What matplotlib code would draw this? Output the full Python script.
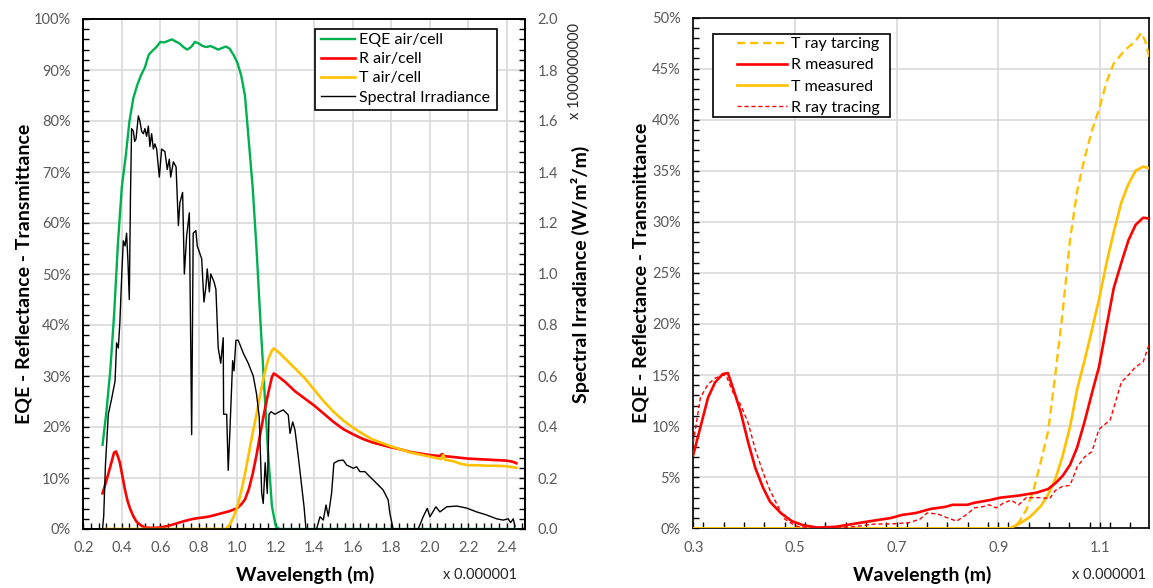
import matplotlib
matplotlib.use("Agg")
import matplotlib.pyplot as plt
from matplotlib.ticker import MultipleLocator, FuncFormatter, FixedLocator
from matplotlib.patches import Rectangle
import numpy as np

plt.rcParams['font.family'] = ['Lato', 'DejaVu Sans']

# ---------------- Left panel data (wavelength in µm) ----------------
eqe_wl = [0.30, 0.32, 0.34, 0.36, 0.38, 0.40, 0.42, 0.44, 0.46, 0.48, 0.50, 0.52, 0.54, 0.56,
          0.58, 0.60, 0.62, 0.64, 0.66, 0.68, 0.70, 0.72, 0.74, 0.76, 0.78, 0.80, 0.82, 0.84,
          0.86, 0.88, 0.90, 0.92, 0.94, 0.96, 0.98, 1.00, 1.02, 1.04, 1.06, 1.08, 1.10, 1.12,
          1.14, 1.16, 1.18, 1.20, 1.22, 1.60, 2.00, 2.45]
eqe_val = [16.5, 23, 31, 42, 56, 67, 73, 80, 84.5, 87, 89, 90.5, 93, 93.8,
           94.5, 95.5, 95.4, 95.7, 96, 95.6, 95.2, 94.5, 94, 94.5, 95.5, 95.2, 94.7, 94.5,
           94.7, 94.4, 94, 94.3, 94.6, 94.2, 93, 91.5, 89, 85, 76, 67, 55, 41,
           28, 15, 4.5, 0.5, 0, 0, 0, 0]

r_wl = [0.30, 0.32, 0.34, 0.36, 0.37, 0.38, 0.39, 0.40, 0.417, 0.43, 0.443, 0.46, 0.477, 0.50,
        0.52, 0.56, 0.60, 0.64, 0.685, 0.72, 0.76, 0.79, 0.83, 0.86, 0.90, 0.93, 0.96, 1.00,
        1.02, 1.04, 1.06, 1.08, 1.10, 1.12, 1.14, 1.16, 1.18, 1.19, 1.21, 1.25, 1.30, 1.35,
        1.40, 1.45, 1.50, 1.55, 1.60, 1.65, 1.70, 1.75, 1.80, 1.85, 1.90, 1.95, 2.00, 2.05,
        2.065, 2.075, 2.10, 2.15, 2.20, 2.25, 2.30, 2.35, 2.40, 2.43, 2.45]
r_val = [7.0, 9.5, 12.2, 15.0, 15.2, 14.2, 13.0, 11.0, 7.6, 5.5, 4.0, 2.5, 1.4, 0.7,
         0.3, 0.2, 0.3, 0.6, 1.1, 1.5, 1.9, 2.1, 2.3, 2.5, 2.9, 3.2, 3.5, 4.1,
         4.8, 5.8, 7.8, 10.8, 14.5, 18.8, 22.8, 26.5, 29.8, 30.5, 30.0, 28.8, 27.0, 25.6,
         24.2, 22.6, 21.0, 19.6, 18.6, 17.7, 17.0, 16.5, 16.0, 15.6, 15.1, 14.8, 14.5, 14.3,
         14.7, 14.3, 14.2, 14.0, 13.8, 13.7, 13.6, 13.5, 13.4, 13.2, 12.9]

t_wl = [0.30, 0.60, 0.94, 0.96, 0.98, 1.00, 1.02, 1.04, 1.06, 1.08, 1.10, 1.12, 1.14, 1.16,
        1.18, 1.19, 1.22, 1.26, 1.30, 1.35, 1.40, 1.45, 1.50, 1.55, 1.60, 1.65, 1.70, 1.75,
        1.80, 1.85, 1.90, 1.95, 2.00, 2.05, 2.06, 2.07, 2.08, 2.12, 2.16, 2.20, 2.25, 2.30,
        2.35, 2.40, 2.45]
t_val = [0, 0, 0, 0.8, 2.3, 4.3, 7.3, 10.8, 14.8, 18.8, 22.5, 26.5, 30.2, 33.2,
         35.0, 35.4, 34.5, 33.0, 31.5, 29.6, 27.3, 25.0, 23.0, 21.3, 19.9, 18.7, 17.6, 16.9,
         16.2, 15.6, 15.0, 14.6, 14.2, 13.8, 13.7, 14.5, 13.6, 13.3, 12.8, 12.5, 12.5, 12.4,
         12.4, 12.3, 12.0]

# Spectral irradiance (x 1e9 W/m²/m)
si_wl = [0.300, 0.306, 0.315, 0.330, 0.347, 0.365, 0.373, 0.382, 0.390, 0.400, 0.408, 0.417,
         0.425, 0.432, 0.439, 0.445, 0.451, 0.460, 0.467, 0.474, 0.486, 0.494, 0.503, 0.512,
         0.520, 0.529, 0.538, 0.546, 0.555, 0.564, 0.572, 0.581, 0.595, 0.607, 0.624, 0.636,
         0.647, 0.654, 0.668, 0.682, 0.694, 0.702, 0.716, 0.725, 0.737, 0.751, 0.763, 0.771,
         0.785, 0.792, 0.815, 0.827, 0.837, 0.844, 0.855, 0.862, 0.879, 0.889, 0.901, 0.914,
         0.927, 0.929, 0.945, 0.953, 0.962, 0.976, 0.983, 0.993, 1.005, 1.031, 1.057, 1.083,
         1.100, 1.114, 1.127, 1.135, 1.145, 1.156, 1.165, 1.175, 1.196, 1.205, 1.220, 1.239,
         1.265, 1.274, 1.288, 1.300, 1.317, 1.335, 1.347, 1.357, 1.412, 1.430, 1.447, 1.461,
         1.473, 1.490, 1.502, 1.525, 1.551, 1.568, 1.603, 1.620, 1.637, 1.663, 1.689, 1.724,
         1.758, 1.784, 1.793, 1.810, 1.940, 1.966, 1.987, 2.001, 2.032, 2.053, 2.088, 2.140,
         2.192, 2.244, 2.296, 2.347, 2.382, 2.408, 2.420, 2.434, 2.443]
si_val = [0.0, 0.05, 0.25, 0.45, 0.51, 0.58, 0.73, 0.71, 0.81, 1.00, 1.13, 1.11,
          1.16, 1.05, 0.90, 1.30, 1.57, 1.56, 1.52, 1.53, 1.62, 1.60, 1.56, 1.55,
          1.57, 1.54, 1.58, 1.50, 1.55, 1.49, 1.51, 1.49, 1.38, 1.49, 1.48, 1.41,
          1.45, 1.38, 1.44, 1.42, 1.19, 1.28, 1.32, 1.00, 1.15, 1.24, 0.37, 1.16,
          1.17, 1.11, 1.06, 0.89, 0.95, 1.02, 0.93, 1.00, 0.97, 0.94, 0.71, 0.65,
          0.75, 0.45, 0.45, 0.23, 0.39, 0.66, 0.62, 0.74, 0.74, 0.69, 0.65, 0.60,
          0.53, 0.44, 0.14, 0.10, 0.26, 0.14, 0.45, 0.46, 0.45, 0.454, 0.46, 0.467,
          0.447, 0.375, 0.42, 0.388, 0.284, 0.166, 0.087, 0.0, 0.0, 0.048, 0.035, 0.094,
          0.05, 0.14, 0.258, 0.268, 0.27, 0.251, 0.238, 0.244, 0.225, 0.225, 0.205, 0.179,
          0.153, 0.114, 0.061, 0.0, 0.0, 0.048, 0.081, 0.048, 0.087, 0.067, 0.087, 0.09,
          0.082, 0.067, 0.055, 0.04, 0.035, 0.04, 0.025, 0.04, 0.01]

# ---------------- Right panel data ----------------
rm_wl = [0.300, 0.314, 0.329, 0.343, 0.358, 0.368, 0.379, 0.393, 0.408, 0.422, 0.437, 0.451,
         0.472, 0.494, 0.516, 0.545, 0.580, 0.616, 0.652, 0.688, 0.710, 0.738, 0.767, 0.796,
         0.810, 0.839, 0.853, 0.882, 0.904, 0.940, 0.976, 0.998, 1.012, 1.026, 1.041, 1.055,
         1.070, 1.084, 1.098, 1.113, 1.127, 1.142, 1.156, 1.170, 1.185, 1.200]
rm_val = [7.2, 9.9, 12.8, 14.3, 15.1, 15.2, 13.6, 11.4, 8.4, 5.9, 4.0, 2.6,
          1.5, 0.7, 0.3, 0.07, 0.15, 0.44, 0.73, 1.0, 1.3, 1.5, 1.9, 2.1,
          2.3, 2.3, 2.5, 2.75, 3.0, 3.2, 3.5, 3.85, 4.4, 5.1, 6.2, 7.9,
          10.5, 13.2, 15.8, 19.8, 23.5, 26.0, 28.2, 29.7, 30.4, 30.3]

tm_wl = [0.300, 0.922, 0.940, 0.962, 0.984, 0.998, 1.012, 1.026, 1.041, 1.055, 1.070, 1.084,
         1.098, 1.113, 1.127, 1.142, 1.156, 1.170, 1.185, 1.200]
tm_val = [0, 0, 0.4, 1.1, 2.2, 3.3, 4.8, 7.0, 9.9, 13.6, 16.5, 19.4,
          22.4, 26.0, 29.0, 31.9, 33.7, 35.0, 35.4, 35.2]

trt_wl = [0.300, 0.925, 0.940, 0.955, 0.969, 0.984, 0.998, 1.012, 1.026, 1.041, 1.055, 1.070,
          1.084, 1.098, 1.113, 1.127, 1.149, 1.170, 1.181, 1.189, 1.200]
trt_val = [0, 0, 0.55, 1.8, 3.7, 6.6, 9.5, 15.0, 20.9, 28.2, 33.0, 36.3,
           38.9, 41.0, 43.7, 45.5, 46.8, 47.7, 48.5, 47.7, 45.5]

rrt_wl = [0.300, 0.314, 0.329, 0.343, 0.358, 0.365, 0.379, 0.393, 0.408, 0.422, 0.437, 0.451,
          0.466, 0.480, 0.502, 0.538, 0.580, 0.624, 0.652, 0.695, 0.724, 0.746, 0.760, 0.781,
          0.796, 0.818, 0.839, 0.853, 0.868, 0.882, 0.896, 0.911, 0.925, 0.940, 0.955, 0.969,
          0.984, 1.001, 1.012, 1.026, 1.041, 1.055, 1.070, 1.084, 1.098, 1.120, 1.142, 1.156,
          1.170, 1.185, 1.200]
rrt_val = [8.4, 12.8, 14.1, 14.7, 15.0, 14.9, 13.2, 12.1, 10.3, 7.7, 5.5, 3.7,
           2.2, 0.9, 0.2, 0.0, 0.0, 0.2, 0.4, 0.44, 0.55, 0.9, 1.5, 1.4,
           1.1, 0.7, 1.4, 2.0, 2.1, 2.3, 2.0, 2.5, 2.75, 2.3, 3.0, 3.0,
           3.0, 2.9, 3.7, 4.1, 4.2, 6.0, 7.0, 7.5, 9.7, 10.6, 14.3, 15.0,
           15.8, 16.3, 18.5]

left_xticks = [0.2, 0.4, 0.6, 0.8, 1.0, 1.2, 1.4, 1.6, 1.8, 2.0, 2.2, 2.4]
right_xticks = [0.3, 0.5, 0.7, 0.9, 1.1]

GREEN = '#00B050'
RED = '#FF0000'
GOLD = '#FFC000'
TICKC = '#595959'
GRID = '#D9D9D9'

W, H = 1153, 588
fig = plt.figure(figsize=(W / 100, H / 100), dpi=100)

def px_axes(l, t, r, b):
    return fig.add_axes([l / W, 1 - b / H, (r - l) / W, (b - t) / H])

def style(ax):
    for s in ax.spines.values():
        s.set_linewidth(1.2)
        s.set_color('black')
    ax.tick_params(which='both', direction='in', length=4, width=1.0, color='black',
                   labelsize=10.5, labelcolor=TICKC, top=False, right=False)
    ax.tick_params(axis='x', which='major', pad=9)
    ax.tick_params(axis='y', which='major', pad=9)
    ax.grid(True, which='major', color=GRID, linewidth=1.2)
    ax.set_axisbelow(True)

def legend_box(handles, box_px, text_px_x, top_px, handlelength, spacing):
    """Excel-like legend: white framed box with entries placed inside."""
    l, t, r, b = box_px
    rect = Rectangle((l / W, 1 - b / H), (r - l) / W, (b - t) / H, transform=fig.transFigure,
                     facecolor='white', edgecolor='black', linewidth=1.2, zorder=10)
    fig.patches.append(rect)
    leg = fig.legend(handles=handles, loc='upper left',
                     bbox_to_anchor=(text_px_x / W, 1 - top_px / H),
                     frameon=False, fontsize=11.5, handlelength=handlelength,
                     handletextpad=0.3, borderpad=0, labelspacing=spacing, borderaxespad=0)
    leg.set_zorder(11)
    return leg

# ---------------- Left panel ----------------
ax = px_axes(83.3, 19, 525, 529)
ax.set_xlim(0.2, 2.495)
ax.set_ylim(0, 100)
ax.xaxis.set_major_locator(FixedLocator(left_xticks))
ax.xaxis.set_minor_locator(MultipleLocator(0.04))
ax.yaxis.set_major_locator(MultipleLocator(10))
ax.yaxis.set_minor_locator(MultipleLocator(2))
ax.xaxis.set_major_formatter(FuncFormatter(lambda v, p: f'{v:.1f}'))
ax.yaxis.set_major_formatter(FuncFormatter(lambda v, p: f'{v:.0f}%'))
style(ax)

l1, = ax.plot(eqe_wl, eqe_val, color=GREEN, lw=1.7, label='EQE air/cell', zorder=3)
l2, = ax.plot(r_wl, r_val, color=RED, lw=1.9, label='R air/cell', zorder=3)
l3, = ax.plot(t_wl, t_val, color=GOLD, lw=1.9, label='T air/cell', zorder=3)

ax2 = ax.twinx()
ax2.set_ylim(0, 2.0)
ax2.yaxis.set_major_locator(MultipleLocator(0.2))
ax2.yaxis.set_minor_locator(MultipleLocator(0.04))
ax2.yaxis.set_major_formatter(FuncFormatter(lambda v, p: f'{v:.1f}'))
for s in ax2.spines.values():
    s.set_linewidth(1.2)
ax2.tick_params(which='both', direction='in', length=4, width=1.0, color='black',
                labelsize=10.5, labelcolor=TICKC, pad=9)
l4, = ax2.plot(si_wl, si_val, color='black', lw=1.0, label='Spectral Irradiance', zorder=2)
ax2.set_ylabel('Spectral Irradiance (W/m²/m)', fontsize=14, fontweight='bold', labelpad=9)

ax.set_ylabel('EQE - Reflectance - Transmittance', fontsize=14, fontweight='bold', labelpad=1)

legend_box([l1, l2, l3, l4], (315, 29, 497, 110), 321, 33, 2.1, 0.31)

fig.text(305 / W, 1 - 575 / H, 'Wavelength (m)', ha='center', va='center',
         fontsize=14, fontweight='bold')
fig.text(480 / W, 1 - 575 / H, 'x 0.000001', ha='center', va='center',
         fontsize=10.5, color='#262626')
fig.text(575 / W, 1 - 71 / H, 'x 1000000000', ha='center', va='center', rotation=90,
         fontsize=10.5, color='#262626')

# ---------------- Right panel ----------------
bx = px_axes(693.3, 17.5, 1149.3, 528.3)
bx.set_xlim(0.3, 1.197)
bx.set_ylim(0, 50)
bx.xaxis.set_major_locator(FixedLocator(right_xticks))
bx.xaxis.set_minor_locator(MultipleLocator(0.04))
bx.yaxis.set_major_locator(MultipleLocator(5))
bx.yaxis.set_minor_locator(MultipleLocator(1))
bx.xaxis.set_major_formatter(FuncFormatter(lambda v, p: f'{v:.1f}'))
bx.yaxis.set_major_formatter(FuncFormatter(lambda v, p: f'{v:.0f}%'))
style(bx)

k1, = bx.plot(trt_wl, trt_val, color=GOLD, lw=1.7, ls=(0, (3.5, 2)), label='T ray tarcing', zorder=3)
k2, = bx.plot(rm_wl, rm_val, color=RED, lw=1.9, label='R measured', zorder=4)
k3, = bx.plot(tm_wl, tm_val, color=GOLD, lw=1.9, label='T measured', zorder=3)
k4, = bx.plot(rrt_wl, rrt_val, color=RED, lw=1.0, ls=(0, (3, 2)), label='R ray tracing', zorder=4)

bx.set_ylabel('EQE - Reflectance - Transmittance', fontsize=14, fontweight='bold', labelpad=2)
legend_box([k1, k2, k3, k4], (712.5, 34, 890, 117), 737, 37, 3.1, 0.44)

fig.text(922 / W, 1 - 575 / H, 'Wavelength (m)', ha='center', va='center',
         fontsize=14, fontweight='bold')
fig.text(1109 / W, 1 - 575 / H, 'x 0.000001', ha='center', va='center',
         fontsize=10.5, color='#262626')

fig.savefig('out.png', dpi=100)
